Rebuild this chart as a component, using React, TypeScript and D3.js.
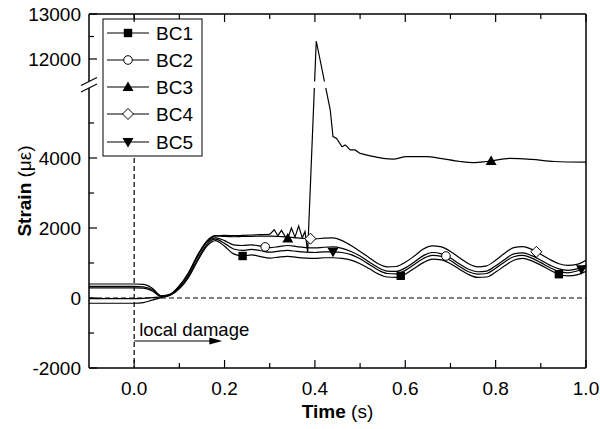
import React from 'react';
import * as d3 from 'd3';

const W = 600;
const H = 429;
const LEFT = 89;
const RIGHT = 586;
const TOP = 14;
const BOTTOM = 368;

// common time grid (s)
const TIME = [
  -0.1, 0.0, 0.02, 0.04, 0.06, 0.08, 0.1, 0.12, 0.14, 0.16, 0.18, 0.2, 0.22, 0.24, 0.26, 0.28,
  0.3, 0.32, 0.34, 0.36, 0.38, 0.4, 0.42, 0.44, 0.46, 0.48, 0.5, 0.52, 0.54, 0.56, 0.58, 0.6,
  0.62, 0.64, 0.66, 0.68, 0.7, 0.72, 0.74, 0.76, 0.78, 0.8, 0.82, 0.84, 0.86, 0.88, 0.9, 0.92,
  0.94, 0.96, 0.98, 1.0,
];

const BC1 = [
  -150, -150, -130, -60, 10, 80, 260, 580, 1050, 1470, 1640, 1480, 1260, 1200, 1230, 1180,
  1140, 1170, 1190, 1160, 1140, 1130, 1150, 1150, 1130, 1080, 980, 840, 690, 600, 590, 680,
  850, 1010, 1110, 1090, 980, 820, 670, 590, 600, 740, 920, 1080, 1130, 1060, 940, 800,
  680, 630, 660, 760,
];

const BC2 = [
  290, 290, 280, 200, 40, 100, 330, 680, 1180, 1580, 1720, 1640, 1520, 1500, 1520, 1480,
  1440, 1470, 1500, 1470, 1440, 1430, 1450, 1460, 1420, 1330, 1200, 1030, 870, 770, 760, 860,
  1030, 1210, 1300, 1260, 1140, 970, 820, 750, 770, 920, 1100, 1260, 1290, 1210, 1080, 940,
  830, 790, 830, 940,
];

const BC4 = [
  400, 400, 390, 280, 60, 110, 350, 720, 1220, 1620, 1780, 1760, 1750, 1760, 1760, 1770,
  1770, 1760, 1740, 1720, 1700, 1690, 1710, 1720, 1640, 1500, 1330, 1150, 980, 890, 900, 1020,
  1200, 1400, 1490, 1460, 1330, 1150, 980, 890, 920, 1080, 1280, 1440, 1470, 1390, 1250, 1100,
  980, 930, 960, 1080,
];

const BC5 = [
  -20, -20, -10, 10, 30, 90, 290, 620, 1100, 1520, 1680, 1560, 1400, 1360, 1390, 1350,
  1310, 1340, 1360, 1330, 1310, 1300, 1320, 1320, 1300, 1240, 1120, 960, 800, 700, 690, 790,
  960, 1130, 1220, 1190, 1070, 900, 750, 680, 700, 850, 1030, 1180, 1220, 1140, 1010, 870,
  760, 720, 770, 880,
];

// BC3 has its own sampling (spike after local damage)
const BC3_TIME_A = [-0.1, 0.0, 0.02, 0.04, 0.06, 0.08, 0.1, 0.12, 0.14, 0.16, 0.18, 0.2, 0.22, 0.24, 0.26, 0.28, 0.3];
const BC3_A = [330, 330, 320, 240, 50, 100, 340, 700, 1200, 1600, 1770, 1790, 1780, 1790, 1800, 1810, 1820];
const BC3_TIME_B = [0.3, 0.31, 0.318, 0.326, 0.334, 0.34, 0.348, 0.356, 0.364, 0.372, 0.378, 0.384, 0.403, 0.434, 0.44, 0.448, 0.46, 0.467, 0.47, 0.478, 0.489, 0.5];
const BC3_B = [1820, 1950, 1780, 1930, 1760, 1700, 2000, 1740, 2060, 1720, 1900, 1310, 12400, 5370, 4610, 4560, 4320, 4370, 4340, 4230, 4230, 4130];
const BC3_TIME_C = [0.5, 0.522, 0.551, 0.573, 0.603, 0.648, 0.677, 0.721, 0.75, 0.78, 0.832, 0.88, 0.93, 1.0];
const BC3_C = [4130, 4060, 3990, 3970, 4040, 4040, 3990, 3900, 3870, 3900, 3990, 3960, 3900, 3880];

const MARK_BC1 = [0.24, 0.59, 0.94];
const MARK_BC2 = [0.29, 0.69];
const MARK_BC3 = [0.34, 0.79];
const MARK_BC4 = [0.39, 0.89];
const MARK_BC5 = [0.44, 0.99];

const NAMES = ['BC1', 'BC2', 'BC3', 'BC4', 'BC5'];
const SYMBOLS = ['square', 'circle', 'triangle', 'diamond', 'triangleDown'];

const X_MAJOR = [0, 0.2, 0.4, 0.6, 0.8, 1.0];
const X_MINOR = [0.1, 0.3, 0.5, 0.7, 0.9];
const Y_MAJOR = [-2000, 0, 2000, 4000, 12000, 13000];
const Y_MINOR = [-1000, 1000, 3000, 5000, 12500];

const x = d3.scaleLinear().domain([-0.1, 1.0]).range([LEFT, RIGHT]);
// broken axis: lower part -2000..6000, upper part 11500..13000
const y = d3.scaleLinear().domain([-2000, 6000, 11500, 13000]).range([BOTTOM, 88, 81.5, TOP]);

function zip(t: number[], v: number[]) {
  return t.map((tt, i) => [tt, v[i]] as [number, number]);
}

const smooth = d3
  .line<[number, number]>()
  .x((d) => x(d[0]))
  .y((d) => y(d[1]))
  .curve(d3.curveMonotoneX);
const sharp = d3
  .line<[number, number]>()
  .x((d) => x(d[0]))
  .y((d) => y(d[1]));

function interp(t: number[], v: number[], at: number) {
  const i = d3.bisectLeft(t, at);
  if (i <= 0) return v[0];
  if (i >= t.length) return v[v.length - 1];
  const f = (at - t[i - 1]) / (t[i] - t[i - 1]);
  return v[i - 1] + f * (v[i] - v[i - 1]);
}

function Marker({ kind, cx, cy }: { kind: string; cx: number; cy: number }) {
  const s = 4.2;
  if (kind === 'square')
    return <rect x={cx - s} y={cy - s} width={2 * s} height={2 * s} fill="#000" />;
  if (kind === 'circle') return <circle cx={cx} cy={cy} r={4.3} fill="#fff" stroke="#000" strokeWidth={1} />;
  if (kind === 'triangle')
    return <path d={`M${cx},${cy - 5.5}L${cx + 5.5},${cy + 4}L${cx - 5.5},${cy + 4}Z`} fill="#000" />;
  if (kind === 'triangleDown')
    return <path d={`M${cx},${cy + 5.5}L${cx + 5.5},${cy - 4}L${cx - 5.5},${cy - 4}Z`} fill="#000" />;
  return (
    <path
      d={`M${cx},${cy - 5.5}L${cx + 5.5},${cy}L${cx},${cy + 5.5}L${cx - 5.5},${cy}Z`}
      fill="#fff"
      stroke="#000"
      strokeWidth={1}
    />
  );
}

export default function App() {
  const font = 'Liberation Sans, Arial, Helvetica, sans-serif';
  const seriesSmooth = [
    { t: TIME, v: BC1, marks: MARK_BC1, sym: 'square' },
    { t: TIME, v: BC2, marks: MARK_BC2, sym: 'circle' },
    { t: TIME, v: BC4, marks: MARK_BC4, sym: 'diamond' },
    { t: TIME, v: BC5, marks: MARK_BC5, sym: 'triangleDown' },
  ];
  const bc3T = [...BC3_TIME_A, ...BC3_TIME_B.slice(1), ...BC3_TIME_C.slice(1)];
  const bc3V = [...BC3_A, ...BC3_B.slice(1), ...BC3_C.slice(1)];

  const legendY = [33, 60, 87, 114, 142];

  return (
    <svg width={W} height={H} style={{ display: 'block', position: 'absolute', left: 0, top: 0 }} fontFamily={font}>
      <defs>
        <clipPath id="plotClip">
          <rect x={LEFT} y={88} width={RIGHT - LEFT} height={BOTTOM - 88} />
          <rect x={LEFT} y={TOP} width={RIGHT - LEFT} height={81.5 - TOP} />
        </clipPath>
      </defs>
      <rect width={W} height={H} fill="#fff" />

      {/* dashed reference lines */}
      <line x1={LEFT} x2={RIGHT} y1={y(0)} y2={y(0)} stroke="#000" strokeWidth={1.2} strokeDasharray="5,3" />
      <line x1={x(0)} x2={x(0)} y1={TOP} y2={BOTTOM} stroke="#000" strokeWidth={1.2} strokeDasharray="5,3" />

      {/* curves */}
      <g clipPath="url(#plotClip)" fill="none" stroke="#000" strokeWidth={1.2}>
        {seriesSmooth.map((s, i) => (
          <path key={i} d={smooth(zip(s.t, s.v)) || ''} />
        ))}
        <path d={smooth(zip(BC3_TIME_A, BC3_A)) || ''} />
        <path d={sharp(zip(BC3_TIME_B, BC3_B)) || ''} />
        <path d={smooth(zip(BC3_TIME_C, BC3_C)) || ''} />
      </g>

      {/* markers */}
      {seriesSmooth.map((s, i) =>
        s.marks.map((m, j) => (
          <Marker key={`${i}-${j}`} kind={s.sym} cx={x(m)} cy={y(interp(s.t, s.v, m))} />
        ))
      )}
      {MARK_BC3.map((m, j) => (
        <Marker key={`bc3-${j}`} kind="triangle" cx={x(m)} cy={y(interp(bc3T, bc3V, m))} />
      ))}

      {/* legend */}
      <rect x={103} y={19} width={99} height={137} fill="#fff" stroke="#000" strokeWidth={1} />
      {NAMES.map((n, i) => (
        <g key={n}>
          <line x1={107} x2={149} y1={legendY[i]} y2={legendY[i]} stroke="#000" strokeWidth={1.1} />
          <Marker kind={SYMBOLS[i]} cx={128} cy={legendY[i]} />
          <text x={156} y={legendY[i]} dy="0.36em" fontSize={19}>
            {n}
          </text>
        </g>
      ))}

      {/* frame */}
      <g stroke="#000" strokeWidth={1.5} fill="none">
        <line x1={LEFT} x2={RIGHT} y1={BOTTOM} y2={BOTTOM} />
        <line x1={LEFT} x2={RIGHT} y1={TOP} y2={TOP} />
        <line x1={RIGHT} x2={RIGHT} y1={TOP} y2={BOTTOM} />
        <line x1={LEFT} x2={LEFT} y1={TOP} y2={BOTTOM} />
      </g>

      {/* axis break */}
      <rect x={LEFT - 2} y={81.5} width={4} height={6.5} fill="#fff" />
      <line x1={81} y1={85.5} x2={97} y2={77.5} stroke="#000" strokeWidth={1.2} />
      <line x1={81} y1={92} x2={97} y2={84} stroke="#000" strokeWidth={1.2} />

      {/* ticks */}
      <g stroke="#000" strokeWidth={1.2}>
        {X_MAJOR.map((t) => (
          <g key={t}>
            <line x1={x(t)} x2={x(t)} y1={BOTTOM} y2={BOTTOM - 8} />
            <line x1={x(t)} x2={x(t)} y1={TOP} y2={TOP + 8} />
          </g>
        ))}
        {X_MINOR.map((t) => (
          <g key={t}>
            <line x1={x(t)} x2={x(t)} y1={BOTTOM} y2={BOTTOM - 5} />
            <line x1={x(t)} x2={x(t)} y1={TOP} y2={TOP + 5} />
          </g>
        ))}
        {Y_MAJOR.map((v) => (
          <line key={v} x1={LEFT} x2={LEFT + 8} y1={y(v)} y2={y(v)} />
        ))}
        {Y_MINOR.map((v) => (
          <line key={v} x1={LEFT} x2={LEFT + 5} y1={y(v)} y2={y(v)} />
        ))}
      </g>

      {/* tick labels */}
      {X_MAJOR.map((t) => (
        <text key={t} x={x(t)} y={BOTTOM + 20} textAnchor="middle" fontSize={19} dy="0.36em">
          {t.toFixed(1)}
        </text>
      ))}
      {Y_MAJOR.map((v) => (
        <text key={v} x={LEFT - 8} y={y(v)} textAnchor="end" fontSize={19} dy="0.36em">
          {v}
        </text>
      ))}

      {/* axis titles */}
      <text x={(LEFT + RIGHT) / 2} y={411} textAnchor="middle" fontSize={19} dy="0.36em">
        <tspan fontWeight="bold">Time</tspan>
        <tspan> (s)</tspan>
      </text>
      <text
        transform={`translate(24,${(TOP + BOTTOM) / 2}) rotate(-90)`}
        textAnchor="middle"
        fontSize={19}
        dy="0.36em"
      >
        <tspan fontWeight="bold">Strain</tspan>
        <tspan> (με)</tspan>
      </text>

      {/* annotation */}
      <text x={x(0) + 5} y={329} fontSize={18.5} dy="0.36em">
        local damage
      </text>
      <line x1={x(0)} x2={x(0.17)} y1={341} y2={341} stroke="#000" strokeWidth={1.1} />
      <path
        d={`M${x(0.195)},341L${x(0.195) - 13},337.5L${x(0.195) - 13},344.5Z`}
        fill="#000"
      />
    </svg>
  );
}
